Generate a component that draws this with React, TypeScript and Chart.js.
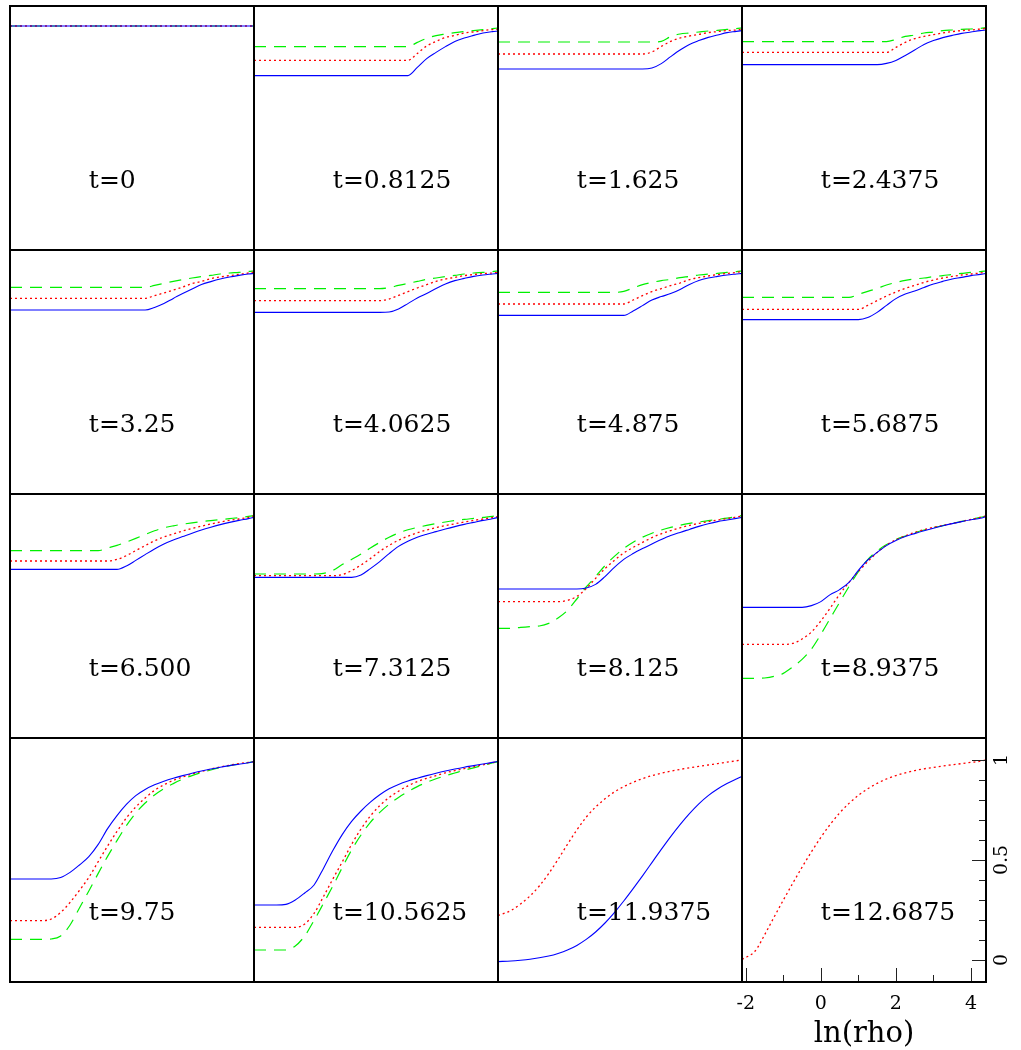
import React, { useEffect, useRef } from "react";
import { Chart, registerables } from "chart.js";

Chart.register(...registerables);

// ---------- data ----------
const LN_RHO = [
  -2.1, -1.75, -1.5, -1.25, -1, -0.75, -0.5, -0.25, 0, 0.25, 0.5, 0.75, 1, 1.25,
  1.5, 1.75, 2, 2.25, 2.5, 2.75, 3, 3.25, 3.5, 3.75, 4, 4.25, 4.4,
];

const TIME_LABELS = [
  "t=0", "t=0.8125", "t=1.625", "t=2.4375",
  "t=3.25", "t=4.0625", "t=4.875", "t=5.6875",
  "t=6.500", "t=7.3125", "t=8.125", "t=8.9375",
  "t=9.75", "t=10.5625", "t=11.9375", "t=12.6875",
];

const BLUE_T0 = [1.01, 1.01, 1.01, 1.01, 1.01, 1.01, 1.01, 1.01, 1.01, 1.01, 1.01, 1.01, 1.01, 1.01, 1.01, 1.01, 1.01, 1.01, 1.01, 1.01, 1.01, 1.01, 1.01, 1.01, 1.01, 1.01, 1.01];
const RED_T0 = [1.01, 1.01, 1.01, 1.01, 1.01, 1.01, 1.01, 1.01, 1.01, 1.01, 1.01, 1.01, 1.01, 1.01, 1.01, 1.01, 1.01, 1.01, 1.01, 1.01, 1.01, 1.01, 1.01, 1.01, 1.01, 1.01, 1.01];
const GREEN_T0 = [1.01, 1.01, 1.01, 1.01, 1.01, 1.01, 1.01, 1.01, 1.01, 1.01, 1.01, 1.01, 1.01, 1.01, 1.01, 1.01, 1.01, 1.01, 1.01, 1.01, 1.01, 1.01, 1.01, 1.01, 1.01, 1.01, 1.01];

const BLUE_T1 = [0.762, 0.762, 0.762, 0.762, 0.762, 0.762, 0.762, 0.762, 0.762, 0.762, 0.762, 0.762, 0.762, 0.762, 0.762, 0.762, 0.762, 0.803, 0.847, 0.878, 0.907, 0.933, 0.95, 0.963, 0.975, 0.982, 0.985];
const RED_T1 = [0.838, 0.838, 0.838, 0.838, 0.838, 0.838, 0.838, 0.838, 0.838, 0.838, 0.838, 0.838, 0.838, 0.838, 0.838, 0.838, 0.838, 0.873, 0.91, 0.933, 0.953, 0.963, 0.975, 0.98, 0.987, 0.992, 0.993];
const GREEN_T1 = [0.907, 0.907, 0.907, 0.907, 0.907, 0.907, 0.907, 0.907, 0.907, 0.907, 0.907, 0.907, 0.907, 0.907, 0.907, 0.907, 0.907, 0.928, 0.948, 0.962, 0.97, 0.977, 0.982, 0.987, 0.992, 0.997, 1.0];

const BLUE_T2 = [0.795, 0.795, 0.795, 0.795, 0.795, 0.795, 0.795, 0.795, 0.795, 0.795, 0.795, 0.795, 0.795, 0.795, 0.795, 0.795, 0.8, 0.822, 0.857, 0.89, 0.918, 0.937, 0.953, 0.965, 0.977, 0.983, 0.987];
const RED_T2 = [0.87, 0.87, 0.87, 0.87, 0.87, 0.87, 0.87, 0.87, 0.87, 0.87, 0.87, 0.87, 0.87, 0.87, 0.87, 0.87, 0.88, 0.908, 0.933, 0.95, 0.96, 0.968, 0.977, 0.982, 0.987, 0.99, 0.993];
const GREEN_T2 = [0.93, 0.93, 0.93, 0.93, 0.93, 0.93, 0.93, 0.93, 0.93, 0.93, 0.93, 0.93, 0.93, 0.93, 0.93, 0.93, 0.93, 0.933, 0.957, 0.97, 0.975, 0.98, 0.985, 0.988, 0.993, 0.997, 1.0];

const BLUE_T3 = [0.817, 0.817, 0.817, 0.817, 0.817, 0.817, 0.817, 0.817, 0.817, 0.817, 0.817, 0.817, 0.817, 0.817, 0.817, 0.823, 0.838, 0.863, 0.89, 0.918, 0.937, 0.952, 0.963, 0.973, 0.98, 0.987, 0.99];
const RED_T3 = [0.878, 0.878, 0.878, 0.878, 0.878, 0.878, 0.878, 0.878, 0.878, 0.878, 0.878, 0.878, 0.878, 0.878, 0.878, 0.878, 0.903, 0.928, 0.947, 0.958, 0.967, 0.975, 0.982, 0.987, 0.99, 0.995, 0.997];
const GREEN_T3 = [0.932, 0.932, 0.932, 0.932, 0.932, 0.932, 0.932, 0.932, 0.932, 0.932, 0.932, 0.932, 0.932, 0.932, 0.932, 0.932, 0.943, 0.958, 0.965, 0.975, 0.98, 0.987, 0.99, 0.993, 0.995, 0.998, 1.002];

const BLUE_T4 = [0.81, 0.81, 0.81, 0.81, 0.81, 0.81, 0.81, 0.81, 0.81, 0.81, 0.81, 0.81, 0.81, 0.81, 0.81, 0.823, 0.842, 0.868, 0.892, 0.915, 0.937, 0.952, 0.965, 0.975, 0.983, 0.99, 0.993];
const RED_T4 = [0.868, 0.868, 0.868, 0.868, 0.868, 0.868, 0.868, 0.868, 0.868, 0.868, 0.868, 0.868, 0.868, 0.868, 0.868, 0.882, 0.895, 0.91, 0.925, 0.942, 0.953, 0.967, 0.975, 0.982, 0.988, 0.995, 1.0];
const GREEN_T4 = [0.923, 0.923, 0.923, 0.923, 0.923, 0.923, 0.923, 0.923, 0.923, 0.923, 0.923, 0.923, 0.923, 0.923, 0.923, 0.933, 0.943, 0.953, 0.962, 0.97, 0.977, 0.983, 0.99, 0.995, 0.998, 1.003, 1.005];

const BLUE_T5 = [0.798, 0.798, 0.798, 0.798, 0.798, 0.798, 0.798, 0.798, 0.798, 0.798, 0.798, 0.798, 0.798, 0.798, 0.8, 0.815, 0.842, 0.87, 0.893, 0.917, 0.94, 0.957, 0.968, 0.978, 0.985, 0.99, 0.993];
const RED_T5 = [0.857, 0.857, 0.857, 0.857, 0.857, 0.857, 0.857, 0.857, 0.857, 0.857, 0.857, 0.857, 0.857, 0.857, 0.865, 0.883, 0.902, 0.92, 0.937, 0.953, 0.965, 0.973, 0.982, 0.987, 0.992, 0.995, 0.998];
const GREEN_T5 = [0.917, 0.917, 0.917, 0.917, 0.917, 0.917, 0.917, 0.917, 0.917, 0.917, 0.917, 0.917, 0.917, 0.917, 0.922, 0.933, 0.943, 0.953, 0.963, 0.97, 0.977, 0.983, 0.99, 0.995, 0.998, 1.002, 1.005];

const BLUE_T6 = [0.783, 0.783, 0.783, 0.783, 0.783, 0.783, 0.783, 0.783, 0.783, 0.783, 0.783, 0.783, 0.783, 0.783, 0.805, 0.832, 0.86, 0.877, 0.892, 0.913, 0.938, 0.958, 0.97, 0.978, 0.985, 0.99, 0.993];
const RED_T6 = [0.84, 0.84, 0.84, 0.84, 0.84, 0.84, 0.84, 0.84, 0.84, 0.84, 0.84, 0.84, 0.84, 0.84, 0.86, 0.882, 0.902, 0.917, 0.932, 0.945, 0.962, 0.972, 0.98, 0.987, 0.993, 0.998, 1.002];
const GREEN_T6 = [0.898, 0.898, 0.898, 0.898, 0.898, 0.898, 0.898, 0.898, 0.898, 0.898, 0.898, 0.898, 0.898, 0.903, 0.92, 0.937, 0.948, 0.957, 0.963, 0.972, 0.978, 0.985, 0.99, 0.993, 0.998, 1.002, 1.005];

const BLUE_T7 = [0.762, 0.762, 0.762, 0.762, 0.762, 0.762, 0.762, 0.762, 0.762, 0.762, 0.762, 0.762, 0.762, 0.772, 0.798, 0.833, 0.867, 0.89, 0.905, 0.923, 0.94, 0.953, 0.965, 0.973, 0.982, 0.988, 0.993];
const RED_T7 = [0.813, 0.813, 0.813, 0.813, 0.813, 0.813, 0.813, 0.813, 0.813, 0.813, 0.813, 0.813, 0.813, 0.833, 0.857, 0.88, 0.9, 0.918, 0.933, 0.948, 0.96, 0.97, 0.978, 0.985, 0.99, 0.995, 0.998];
const GREEN_T7 = [0.873, 0.873, 0.873, 0.873, 0.873, 0.873, 0.873, 0.873, 0.873, 0.873, 0.873, 0.873, 0.888, 0.903, 0.918, 0.935, 0.948, 0.958, 0.965, 0.97, 0.977, 0.982, 0.988, 0.993, 0.998, 1.002, 1.005];

const BLUE_T8 = [0.733, 0.733, 0.733, 0.733, 0.733, 0.733, 0.733, 0.733, 0.733, 0.733, 0.733, 0.733, 0.75, 0.778, 0.807, 0.835, 0.86, 0.88, 0.897, 0.914, 0.93, 0.944, 0.957, 0.968, 0.978, 0.987, 0.993];
const RED_T8 = [0.775, 0.775, 0.775, 0.775, 0.775, 0.775, 0.775, 0.775, 0.775, 0.775, 0.775, 0.783, 0.802, 0.827, 0.852, 0.876, 0.895, 0.91, 0.925, 0.938, 0.949, 0.96, 0.97, 0.978, 0.985, 0.993, 1.0];
const GREEN_T8 = [0.827, 0.827, 0.827, 0.827, 0.827, 0.827, 0.827, 0.827, 0.827, 0.827, 0.84, 0.853, 0.87, 0.888, 0.907, 0.926, 0.941, 0.951, 0.959, 0.966, 0.972, 0.977, 0.982, 0.987, 0.992, 0.998, 1.002];

const BLUE_T9 = [0.693, 0.693, 0.693, 0.693, 0.693, 0.693, 0.693, 0.693, 0.693, 0.693, 0.693, 0.705, 0.737, 0.772, 0.812, 0.848, 0.874, 0.894, 0.909, 0.922, 0.935, 0.947, 0.958, 0.968, 0.978, 0.986, 0.993];
const RED_T9 = [0.702, 0.702, 0.702, 0.702, 0.702, 0.702, 0.702, 0.702, 0.702, 0.707, 0.727, 0.755, 0.787, 0.823, 0.853, 0.879, 0.899, 0.916, 0.93, 0.942, 0.952, 0.961, 0.97, 0.978, 0.985, 0.992, 0.997];
const GREEN_T9 = [0.71, 0.71, 0.71, 0.71, 0.71, 0.71, 0.71, 0.713, 0.728, 0.757, 0.783, 0.81, 0.84, 0.868, 0.894, 0.915, 0.931, 0.943, 0.953, 0.962, 0.97, 0.977, 0.983, 0.988, 0.993, 0.998, 1.002];

const BLUE_T10 = [0.635, 0.635, 0.635, 0.635, 0.635, 0.635, 0.635, 0.635, 0.635, 0.64, 0.658, 0.697, 0.743, 0.783, 0.812, 0.837, 0.86, 0.882, 0.902, 0.918, 0.933, 0.948, 0.961, 0.972, 0.98, 0.988, 0.993];
const RED_T10 = [0.572, 0.572, 0.572, 0.572, 0.572, 0.572, 0.572, 0.578, 0.598, 0.637, 0.688, 0.737, 0.778, 0.815, 0.843, 0.868, 0.892, 0.911, 0.927, 0.941, 0.953, 0.963, 0.972, 0.98, 0.987, 0.995, 1.0];
const GREEN_T10 = [0.438, 0.438, 0.443, 0.447, 0.45, 0.463, 0.49, 0.528, 0.585, 0.645, 0.697, 0.752, 0.798, 0.838, 0.869, 0.894, 0.914, 0.93, 0.943, 0.954, 0.963, 0.97, 0.977, 0.983, 0.989, 0.997, 1.002];

const BLUE_T11 = [0.543, 0.543, 0.543, 0.543, 0.543, 0.543, 0.543, 0.552, 0.572, 0.607, 0.632, 0.668, 0.728, 0.78, 0.818, 0.852, 0.877, 0.897, 0.912, 0.926, 0.939, 0.951, 0.962, 0.972, 0.981, 0.989, 0.997];
const RED_T11 = [0.358, 0.358, 0.358, 0.358, 0.358, 0.363, 0.385, 0.42, 0.475, 0.54, 0.608, 0.668, 0.722, 0.772, 0.817, 0.855, 0.881, 0.901, 0.918, 0.932, 0.943, 0.953, 0.963, 0.973, 0.983, 0.993, 1.0];
const GREEN_T11 = [0.188, 0.188, 0.19, 0.198, 0.213, 0.245, 0.283, 0.335, 0.408, 0.488, 0.568, 0.647, 0.722, 0.782, 0.825, 0.857, 0.882, 0.9, 0.916, 0.93, 0.942, 0.952, 0.963, 0.973, 0.983, 0.993, 1.0];

const BLUE_T12 = [0.405, 0.405, 0.405, 0.405, 0.405, 0.412, 0.438, 0.475, 0.517, 0.578, 0.657, 0.722, 0.778, 0.822, 0.853, 0.876, 0.894, 0.909, 0.922, 0.934, 0.945, 0.955, 0.964, 0.972, 0.979, 0.986, 0.992];
const RED_T12 = [0.197, 0.197, 0.197, 0.197, 0.205, 0.238, 0.288, 0.348, 0.413, 0.492, 0.57, 0.643, 0.71, 0.765, 0.81, 0.848, 0.876, 0.898, 0.915, 0.93, 0.943, 0.955, 0.965, 0.974, 0.982, 0.988, 0.992];
const GREEN_T12 = [0.103, 0.103, 0.103, 0.103, 0.105, 0.12, 0.175, 0.26, 0.345, 0.433, 0.518, 0.597, 0.672, 0.735, 0.785, 0.825, 0.857, 0.882, 0.904, 0.922, 0.937, 0.95, 0.962, 0.972, 0.98, 0.987, 0.992];

const BLUE_T13 = [0.275, 0.275, 0.275, 0.278, 0.3, 0.335, 0.375, 0.458, 0.547, 0.627, 0.693, 0.745, 0.789, 0.826, 0.856, 0.878, 0.895, 0.909, 0.922, 0.934, 0.945, 0.955, 0.964, 0.972, 0.98, 0.988, 0.993];
const RED_T13 = [0.163, 0.163, 0.163, 0.163, 0.163, 0.18, 0.233, 0.317, 0.405, 0.49, 0.578, 0.655, 0.72, 0.772, 0.812, 0.844, 0.871, 0.892, 0.908, 0.922, 0.936, 0.947, 0.957, 0.966, 0.976, 0.986, 0.993];
const GREEN_T13 = [0.05, 0.05, 0.05, 0.05, 0.07, 0.12, 0.198, 0.283, 0.37, 0.462, 0.55, 0.625, 0.688, 0.738, 0.779, 0.813, 0.842, 0.867, 0.888, 0.906, 0.921, 0.935, 0.949, 0.961, 0.973, 0.985, 0.992];

const BLUE_T14 = [-0.008, -0.005, -0.001, 0.004, 0.011, 0.02, 0.033, 0.05, 0.073, 0.103, 0.14, 0.185, 0.237, 0.295, 0.357, 0.421, 0.487, 0.553, 0.617, 0.677, 0.732, 0.781, 0.822, 0.855, 0.882, 0.905, 0.918];
const RED_T14 = [0.222, 0.248, 0.28, 0.32, 0.37, 0.432, 0.503, 0.578, 0.65, 0.714, 0.765, 0.806, 0.84, 0.867, 0.889, 0.907, 0.922, 0.934, 0.944, 0.953, 0.961, 0.968, 0.975, 0.982, 0.989, 0.996, 1.0];

const RED_T15 = [0.003, 0.045, 0.125, 0.213, 0.299, 0.383, 0.464, 0.541, 0.613, 0.678, 0.735, 0.783, 0.823, 0.856, 0.883, 0.905, 0.922, 0.936, 0.947, 0.956, 0.963, 0.97, 0.976, 0.982, 0.988, 0.994, 1.0];

const X_MAJOR_TICKS = [-2, 0, 2, 4];
const X_TICK_LABELS = ["-2", "0", "2", "4"];
const X_MINOR_TICKS = [-1, 1, 3];
const Y_MAJOR_TICKS = [0, 0.5, 1];
const Y_TICK_LABELS = ["0", "0.5", "1"];
const Y_MINOR_TICKS = [0.1, 0.2, 0.3, 0.4, 0.6, 0.7, 0.8, 0.9];
const X_TITLE = "ln(rho)";

// ---------- layout / style ----------
const X_MIN = -2.1;
const X_MAX = 4.4;
const Y_MIN = -0.11;
const Y_MAX = 1.11;
const LABEL_X = 0;
const LABEL_Y = 0.2;
const GRID_LEFT = 10;
const GRID_TOP = 6;
const CELL = 244;

const PANELS = [
  { blue: BLUE_T0, red: RED_T0, green: GREEN_T0 },
  { blue: BLUE_T1, red: RED_T1, green: GREEN_T1 },
  { blue: BLUE_T2, red: RED_T2, green: GREEN_T2 },
  { blue: BLUE_T3, red: RED_T3, green: GREEN_T3 },
  { blue: BLUE_T4, red: RED_T4, green: GREEN_T4 },
  { blue: BLUE_T5, red: RED_T5, green: GREEN_T5 },
  { blue: BLUE_T6, red: RED_T6, green: GREEN_T6 },
  { blue: BLUE_T7, red: RED_T7, green: GREEN_T7 },
  { blue: BLUE_T8, red: RED_T8, green: GREEN_T8 },
  { blue: BLUE_T9, red: RED_T9, green: GREEN_T9 },
  { blue: BLUE_T10, red: RED_T10, green: GREEN_T10 },
  { blue: BLUE_T11, red: RED_T11, green: GREEN_T11 },
  { blue: BLUE_T12, red: RED_T12, green: GREEN_T12 },
  { blue: BLUE_T13, red: RED_T13, green: GREEN_T13 },
  { blue: BLUE_T14, red: RED_T14, green: null },
  { blue: null, red: RED_T15, green: null },
].map((p, i) => ({ ...p, label: TIME_LABELS[i] }));

const decorPlugin = {
  id: "decor",
  afterDatasetsDraw(chart: any, _args: any, opts: any) {
    const { ctx, chartArea: a } = chart;
    const xs = chart.scales.x;
    const ys = chart.scales.y;
    ctx.save();
    ctx.fillStyle = "#000";
    ctx.font = '25px "DejaVu Serif"';
    ctx.textAlign = "left";
    ctx.textBaseline = "alphabetic";
    ctx.fillText(opts.label, xs.getPixelForValue(LABEL_X), ys.getPixelForValue(LABEL_Y));

    if (opts.axes) {
      ctx.strokeStyle = "#222";
      ctx.lineWidth = 1;
      ctx.beginPath();
      X_MAJOR_TICKS.forEach((v) => {
        const px = Math.round(xs.getPixelForValue(v)) + 0.5;
        ctx.moveTo(px, a.bottom);
        ctx.lineTo(px, a.bottom - 14);
      });
      X_MINOR_TICKS.forEach((v) => {
        const px = Math.round(xs.getPixelForValue(v)) + 0.5;
        ctx.moveTo(px, a.bottom);
        ctx.lineTo(px, a.bottom - 7);
      });
      Y_MAJOR_TICKS.forEach((v) => {
        const py = Math.round(ys.getPixelForValue(v)) + 0.5;
        ctx.moveTo(a.right, py);
        ctx.lineTo(a.right - 14, py);
      });
      Y_MINOR_TICKS.forEach((v) => {
        const py = Math.round(ys.getPixelForValue(v)) + 0.5;
        ctx.moveTo(a.right, py);
        ctx.lineTo(a.right - 7, py);
      });
      ctx.stroke();

      ctx.fillStyle = "#000";
      ctx.font = '19px "DejaVu Serif"';
      ctx.textAlign = "center";
      ctx.textBaseline = "alphabetic";
      X_MAJOR_TICKS.forEach((v, i) => {
        ctx.fillText(X_TICK_LABELS[i], xs.getPixelForValue(v), a.bottom + 27);
      });
      Y_MAJOR_TICKS.forEach((v, i) => {
        ctx.save();
        ctx.translate(a.right + 16, ys.getPixelForValue(v));
        ctx.rotate(-Math.PI / 2);
        ctx.textAlign = "center";
        ctx.textBaseline = "middle";
        ctx.fillText(Y_TICK_LABELS[i], 0, 0);
        ctx.restore();
      });
      ctx.font = '29px "DejaVu Serif"';
      ctx.textAlign = "center";
      ctx.fillText(X_TITLE, (a.left + a.right) / 2, a.bottom + 60);
    }

    ctx.strokeStyle = "#000";
    ctx.lineWidth = 2;
    ctx.strokeRect(a.left, a.top, a.right - a.left, a.bottom - a.top);
    ctx.restore();
  },
};

function Panel({ idx }: { idx: number }) {
  const ref = useRef<HTMLCanvasElement>(null);
  const r = Math.floor(idx / 4);
  const c = idx % 4;
  const isAxis = idx === 15;
  const padL = isAxis ? 14 : 2;
  const padR = isAxis ? 35 : 2;
  const padB = isAxis ? 66 : 2;
  const w = padL + CELL + padR;
  const h = 2 + CELL + padB;
  const left = GRID_LEFT + c * CELL - padL;
  const top = GRID_TOP + r * CELL - 2;

  useEffect(() => {
    const p = PANELS[idx];
    const toPts = (vals: number[]) => LN_RHO.map((x, i) => ({ x, y: vals[i] }));
    const datasets: any[] = [];
    if (p.blue)
      datasets.push({
        data: toPts(p.blue),
        borderColor: "#0000ff",
        borderWidth: 1.1,
        pointRadius: 0,
        fill: false,
        cubicInterpolationMode: "monotone",
      });
    if (p.red)
      datasets.push({
        data: toPts(p.red),
        borderColor: "#ff0000",
        borderWidth: 1.3,
        borderDash: [2, 3],
        pointRadius: 0,
        fill: false,
        cubicInterpolationMode: "monotone",
      });
    if (p.green)
      datasets.push({
        data: toPts(p.green),
        borderColor: "#00f000",
        borderWidth: 1.2,
        borderDash: [12, 8],
        pointRadius: 0,
        fill: false,
        cubicInterpolationMode: "monotone",
      });

    const chart = new Chart(ref.current as HTMLCanvasElement, {
      type: "line",
      data: { datasets },
      options: {
        responsive: false,
        animation: false,
        events: [],
        layout: { padding: { left: padL, top: 2, right: padR, bottom: padB } },
        scales: {
          x: { type: "linear", min: X_MIN, max: X_MAX, display: false },
          y: { type: "linear", min: Y_MIN, max: Y_MAX, display: false },
        },
        plugins: {
          legend: { display: false },
          tooltip: { enabled: false },
          decor: { label: p.label, axes: isAxis },
        } as any,
      },
      plugins: [decorPlugin as any],
    });
    return () => chart.destroy();
  }, [idx]);

  return (
    <canvas
      ref={ref}
      width={w}
      height={h}
      style={{ position: "absolute", left, top, width: w, height: h }}
    />
  );
}

export default function App() {
  return (
    <div
      style={{
        position: "absolute",
        left: 0,
        top: 0,
        width: 1021,
        height: 1048,
        overflow: "hidden",
        background: "#fff",
      }}
    >
      {PANELS.map((_, i) => (
        <Panel key={i} idx={i} />
      ))}
    </div>
  );
}
